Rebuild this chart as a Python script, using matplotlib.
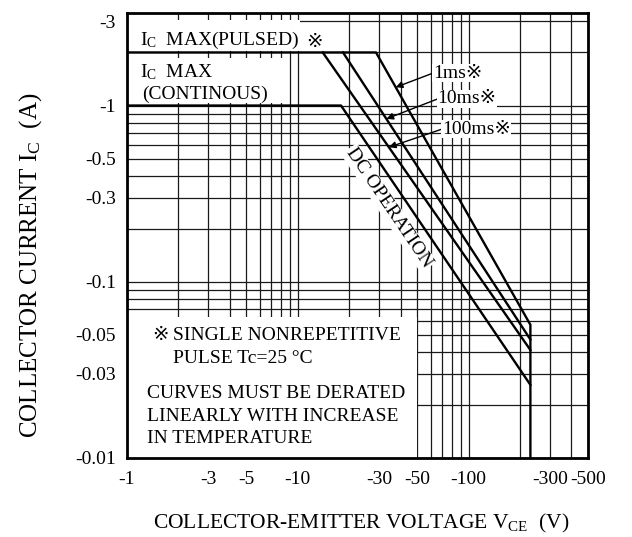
import numpy as np
import matplotlib
matplotlib.use("Agg")
import matplotlib.pyplot as plt
from matplotlib.patches import Rectangle
from matplotlib.ticker import NullFormatter, FixedLocator

plt.rcParams['font.family'] = ['Liberation Serif', 'DejaVu Sans', 'Noto Sans CJK JP']
plt.rcParams['mathtext.fontset'] = 'custom'
plt.rcParams['mathtext.rm'] = 'Liberation Serif'
plt.rcParams['mathtext.it'] = 'Liberation Serif:italic'

# ---- data (|V|, |A|) ----
v_1ms = [1, 28.7, 230, 230]
i_1ms = [2, 2, 0.057, 0.01]
v_10ms = [18.4, 230]
i_10ms = [2, 0.047]
v_100ms = [14, 230]
i_100ms = [2, 0.041]
v_dc = [1, 17.9, 230]
i_dc = [1, 1, 0.026]

x_ticks = [1, 3, 5, 10, 30, 50, 100, 300, 500]
x_tick_labels = ['-1', '-3', '-5', '-10', '-30', '-50', '-100', '-300', '-500']
y_ticks = [0.01, 0.03, 0.05, 0.1, 0.3, 0.5, 1, 3]
y_tick_labels = ['-0.01', '-0.03', '-0.05', '-0.1', '-0.3', '-0.5', '-1', '-3']
x_lim = (1, 500)
y_lim = (0.01, 3.35)

REF = '\u203b'

W, H = 632, 537
fig = plt.figure(figsize=(W / 100, H / 100), dpi=100)
L, R, T, B = 127, 588, 13, 458
ax = fig.add_axes([L / W, 1 - B / H, (R - L) / W, (B - T) / H])
ax.set_xscale('log')
ax.set_yscale('log')
ax.set_xlim(*x_lim)
ax.set_ylim(*y_lim)

ax.set_xticks(x_ticks)
ax.set_xticklabels(x_tick_labels)
ax.set_yticks(y_ticks)
ax.set_yticklabels(y_tick_labels)
ax.xaxis.set_minor_locator(FixedLocator([k * 10 ** e for e in range(0, 3) for k in range(2, 10)]))
ax.yaxis.set_minor_locator(FixedLocator([k * 10.0 ** e for e in range(-2, 1) for k in range(2, 10)]))
ax.xaxis.set_minor_formatter(NullFormatter())
ax.yaxis.set_minor_formatter(NullFormatter())
ax.tick_params(which='both', length=0, labelsize=14)
ax.tick_params(axis='x', pad=9)
ax.tick_params(axis='y', pad=8)
ax.set_axisbelow(True)
ax.grid(which='both', color='#1a1a1a', lw=0.9)
for s in ax.spines.values():
    s.set_linewidth(2)

# white areas for notes
for (x0, y0, w, h) in [(0, 0, 0.629, 0.317), (0, 0.915, 0.375, 0.07), (0, 0.798, 0.34, 0.1)]:
    ax.add_patch(Rectangle((x0, y0), w, h, transform=ax.transAxes, facecolor='white',
                           edgecolor='none', zorder=1))

lw = 1.7
ax.plot(v_1ms, i_1ms, color='black', lw=lw, zorder=3)
ax.plot(v_10ms, i_10ms, color='black', lw=lw, zorder=3)
ax.plot(v_100ms, i_100ms, color='black', lw=lw, zorder=3)
ax.plot(v_dc, i_dc, color='black', lw=lw, zorder=3)


def v_at(vs, cs, c):
    lv = np.log10(vs)
    lc = np.log10(cs)
    idx = [k for k in range(len(lc) - 1) if lc[k] > lc[k + 1]][0]
    f = (np.log10(c) - lc[idx]) / (lc[idx + 1] - lc[idx])
    return 10 ** (lv[idx] + f * (lv[idx + 1] - lv[idx]))


bb = dict(facecolor='white', edgecolor='none', pad=0.5)
fs = 14
for label, vs, cs, c_target, tx, ty in [
    ('1ms' + REF, v_1ms, i_1ms, 1.27, 0.664, 0.865),
    ('10ms' + REF, v_10ms, i_10ms, 0.84, 0.674, 0.807),
    ('100ms' + REF, v_100ms, i_100ms, 0.58, 0.683, 0.739),
]:
    ax.annotate(label, xy=(v_at(vs, cs, c_target), c_target), xycoords='data',
                xytext=(tx, ty), textcoords='axes fraction', ha='left', va='center',
                fontsize=fs, bbox=bb, zorder=4,
                arrowprops=dict(arrowstyle='-|>', color='black', lw=1.0,
                                mutation_scale=10, relpos=(0, 0.5), shrinkA=0, shrinkB=0))

ax.text(0.568, 0.562, 'DC OPERATION', transform=ax.transAxes, rotation=-56,
        rotation_mode='anchor', ha='center', va='center', fontsize=fs,
        bbox=dict(facecolor='white', edgecolor='none', pad=1), zorder=2.2)

t_pulsed = ax.text(0.028, 0.928, r'I$_\mathrm{C}$  MAX(PULSED)', transform=ax.transAxes,
                   fontsize=fs, va='baseline', ha='left', zorder=4)
ax.annotate(REF, xy=(1, 0), xycoords=t_pulsed, xytext=(5, 0), textcoords='offset points',
            fontsize=fs, va='bottom', ha='left', zorder=4)
ax.text(0.028, 0.856, r'I$_\mathrm{C}$  MAX', transform=ax.transAxes,
        fontsize=fs, va='baseline', ha='left', zorder=4)
ax.text(0.032, 0.807, '(CONTINOUS)', transform=ax.transAxes,
        fontsize=fs, va='baseline', ha='left', zorder=4)

ax.text(0.054, 0.265, REF, transform=ax.transAxes, fontsize=fs, va='baseline', ha='left', zorder=4)
ax.text(0.0998, 0.265, 'SINGLE NONREPETITIVE', transform=ax.transAxes, fontsize=fs,
        va='baseline', ha='left', zorder=4)
ax.text(0.0998, 0.2135, 'PULSE Tc=25 \u00b0C', transform=ax.transAxes, fontsize=fs,
        va='baseline', ha='left', zorder=4)
for yy, t in [(0.135, 'CURVES MUST BE DERATED'), (0.083, 'LINEARLY WITH INCREASE'),
              (0.034, 'IN TEMPERATURE')]:
    ax.text(0.0434, yy, t, transform=ax.transAxes, fontsize=fs, va='baseline', ha='left', zorder=4)

fig.text(361 / W, 1 - 523 / H, r'COLLECTOR-EMITTER VOLTAGE V$_\mathrm{CE}$  (V)',
         ha='center', va='center', fontsize=15.5)
fig.text(31 / W, 1 - 265 / H, r'COLLECTOR CURRENT I$_\mathrm{C}$  (A)', rotation=90,
         ha='center', va='center', fontsize=18)

fig.savefig('out.png', dpi=100, facecolor='white')
